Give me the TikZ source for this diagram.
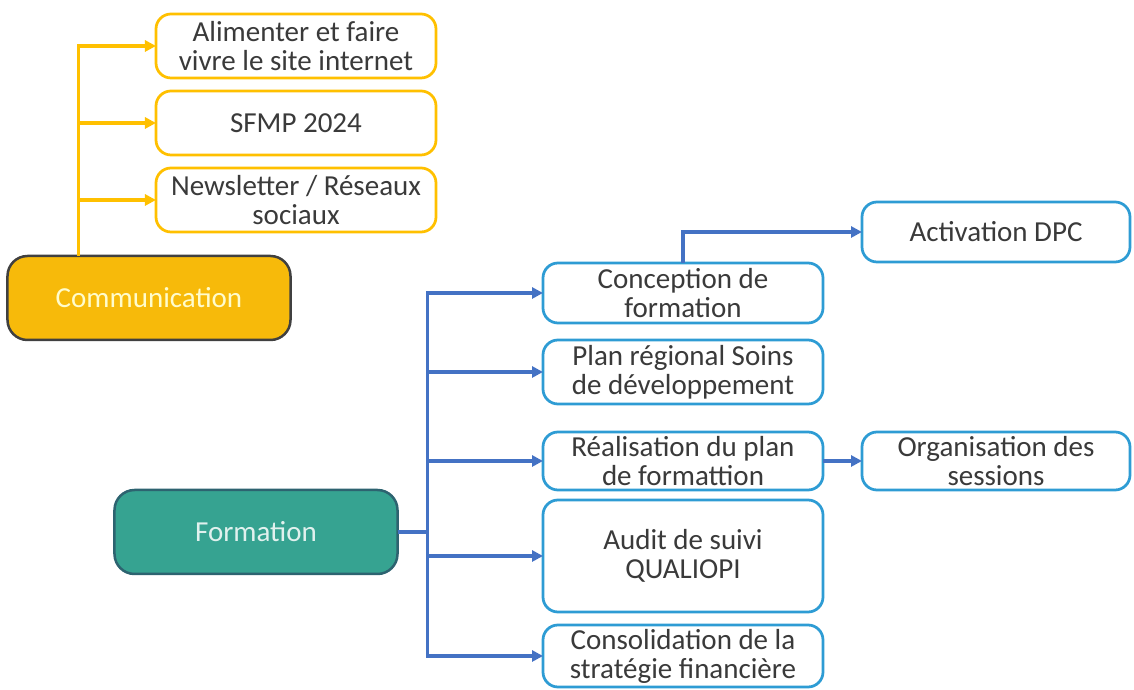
\documentclass[tikz,border=0pt]{standalone}
\usepackage{fontspec}
\setmainfont{Carlito}
\usetikzlibrary{arrows.meta,calc}
\definecolor{ink}{HTML}{3A3A3A}
\definecolor{gold}{HTML}{FFC000}
\definecolor{goldfill}{HTML}{F7BA0A}
\definecolor{edge}{HTML}{404040}
\definecolor{teal}{HTML}{36A391}
\definecolor{tealedge}{HTML}{2D6370}
\definecolor{nblue}{HTML}{4472C4}
\definecolor{sky}{HTML}{2E9CD4}

\begin{document}
\begin{tikzpicture}[
  x=0.2mm, y=-0.2mm,
  every node/.style={inner sep=0pt, outer sep=0pt, text=ink, align=center,
                     font=\fontsize{16.5}{16.5}\selectfont},
  root/.style={rounded corners=4mm, line width=0.5mm, draw=#1,
               minimum width=56.6mm, minimum height=16.8mm},
  leaf/.style={rounded corners=3mm, line width=0.55mm, draw=#1, fill=white,
               minimum width=56mm},
  flow/.style={-{Triangle[length=2.2mm,width=2.2mm]}, line width=0.65mm, color=#1},
]
\useasboundingbox (0,0) rectangle (1134,690);

% ---------------------------------------------------------------- communication
\node[root=edge, fill=goldfill, text=yellow!20] (Com) at (149,298) {Communication};

\node[leaf=gold, minimum height=12.8mm] (Web) at (296,46)
  {Alimenter et faire\\vivre le site internet};
\node[leaf=gold, minimum height=12.8mm] (Sfmp) at (296,123) {SFMP 2024};
\node[leaf=gold, minimum height=12.8mm] (News) at (296,200)
  {Newsletter / Réseaux\\sociaux};

% ---------------------------------------------------------------- formation
\node[root=tealedge, fill=teal, text=teal!15] (For) at (256,532) {Formation};

\node[leaf=sky, minimum height=12mm]   (Conc) at (683,293) {Conception de\\formation};
\node[leaf=sky, minimum height=12.8mm] (Plan) at (683,372) {Plan régional Soins\\de développement};
\node[leaf=sky, minimum height=11.6mm] (Real) at (683,461) {Réalisation du plan\\de formattion};
\node[leaf=sky, minimum height=22.4mm] (Audit) at (683,556) {Audit de suivi\\QUALIOPI};
\node[leaf=sky, minimum height=12.4mm] (Cons) at (683,656) {Consolidation de la\\stratégie financière};

% ---------------------------------------------------------------- second level
\node[leaf=sky, minimum width=53.6mm, minimum height=12mm]   (Dpc) at (996,232) {Activation DPC};
\node[leaf=sky, minimum width=53.6mm, minimum height=11.6mm] (Sess) at (996,461) {Organisation des\\sessions};

% ---------------------------------------------------------------- flow
\coordinate (ctrunk) at ($(Com.north west)!0.25!(Com.north east)$);
\foreach \t in {Web,Sfmp,News}
  \draw[flow=gold] (ctrunk) |- (\t.west);

\foreach \t in {Conc,Plan,Real,Audit,Cons}
  \draw[flow=nblue] (For.east) -- ++(30,0) |- (\t.west);

\draw[flow=nblue] (Conc.north) |- (Dpc.west);
\draw[flow=nblue] (Real.east) -- (Sess.west);

\end{tikzpicture}
\end{document}
